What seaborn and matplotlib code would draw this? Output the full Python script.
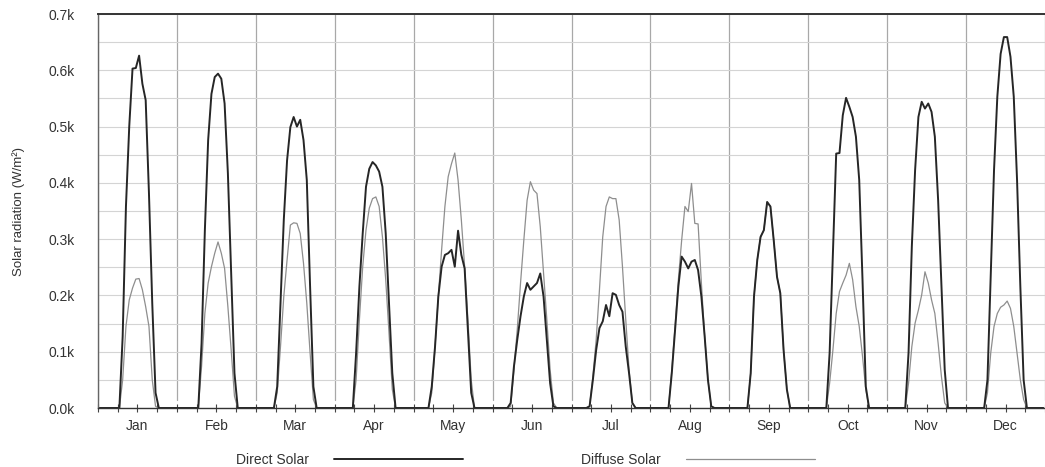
import numpy as np
import pandas as pd
import seaborn as sns
import matplotlib.pyplot as plt
from matplotlib.ticker import FuncFormatter, MultipleLocator

months = ["Jan", "Feb", "Mar", "Apr", "May", "Jun",
          "Jul", "Aug", "Sep", "Oct", "Nov", "Dec"]
hours = list(range(24))

# average day profile per month, W/m2, hour 0..23
direct_solar = [
    [0, 0, 0, 0, 0, 0, 0, 127, 358, 500, 603, 604, 626, 576, 547, 381, 186, 27, 0, 0, 0, 0, 0, 0],
    [0, 0, 0, 0, 0, 0, 0, 115, 316, 476, 558, 588, 594, 585, 541, 417, 239, 62, 0, 0, 0, 0, 0, 0],
    [0, 0, 0, 0, 0, 0, 38, 186, 334, 440, 499, 517, 500, 512, 476, 405, 216, 38, 0, 0, 0, 0, 0, 0],
    [0, 0, 0, 0, 0, 0, 98, 216, 310, 393, 425, 437, 431, 420, 393, 310, 186, 62, 0, 0, 0, 0, 0, 0],
    [0, 0, 0, 0, 0, 38, 109, 198, 251, 272, 275, 281, 251, 315, 272, 248, 139, 27, 0, 0, 0, 0, 0, 0],
    [0, 0, 0, 0, 0, 9, 74, 121, 163, 198, 222, 210, 216, 222, 239, 198, 121, 44, 3, 0, 0, 0, 0, 0],
    [0, 0, 0, 0, 0, 3, 50, 103, 142, 154, 183, 163, 204, 201, 183, 171, 109, 62, 9, 0, 0, 0, 0, 0],
    [0, 0, 0, 0, 0, 0, 62, 139, 216, 269, 260, 248, 260, 263, 245, 198, 127, 50, 3, 0, 0, 0, 0, 0],
    [0, 0, 0, 0, 0, 0, 62, 198, 263, 304, 316, 366, 358, 298, 233, 204, 103, 33, 0, 0, 0, 0, 0, 0],
    [0, 0, 0, 0, 0, 0, 98, 275, 452, 453, 520, 551, 535, 517, 482, 405, 228, 38, 0, 0, 0, 0, 0, 0],
    [0, 0, 0, 0, 0, 0, 98, 287, 423, 517, 544, 532, 541, 526, 482, 369, 216, 68, 0, 0, 0, 0, 0, 0],
    [0, 0, 0, 0, 0, 0, 50, 239, 423, 553, 629, 659, 659, 624, 553, 405, 216, 50, 0, 0, 0, 0, 0, 0],
]
diffuse_solar = [
    [0, 0, 0, 0, 0, 0, 0, 50, 145, 192, 213, 229, 230, 210, 180, 145, 50, 3, 0, 0, 0, 0, 0, 0],
    [0, 0, 0, 0, 0, 0, 0, 74, 168, 222, 251, 275, 295, 275, 248, 180, 103, 21, 0, 0, 0, 0, 0, 0],
    [0, 0, 0, 0, 0, 0, 27, 109, 198, 263, 325, 329, 328, 310, 257, 186, 98, 15, 0, 0, 0, 0, 0, 0],
    [0, 0, 0, 0, 0, 0, 50, 157, 251, 316, 355, 372, 375, 358, 304, 228, 133, 33, 0, 0, 0, 0, 0, 0],
    [0, 0, 0, 0, 0, 27, 109, 198, 281, 358, 411, 434, 453, 405, 334, 251, 157, 50, 0, 0, 0, 0, 0, 0],
    [0, 0, 0, 0, 0, 3, 68, 139, 222, 298, 369, 402, 387, 381, 322, 239, 157, 68, 9, 0, 0, 0, 0, 0],
    [0, 0, 0, 0, 0, 3, 56, 121, 210, 304, 358, 375, 372, 372, 334, 251, 157, 68, 9, 0, 0, 0, 0, 0],
    [0, 0, 0, 0, 0, 0, 68, 145, 228, 298, 358, 349, 399, 328, 327, 222, 127, 50, 3, 0, 0, 0, 0, 0],
    [0, 0, 0, 0, 0, 0, 62, 198, 263, 304, 316, 366, 358, 298, 233, 204, 103, 33, 0, 0, 0, 0, 0, 0],
    [0, 0, 0, 0, 0, 0, 44, 103, 168, 207, 222, 236, 257, 228, 180, 145, 92, 33, 0, 0, 0, 0, 0, 0],
    [0, 0, 0, 0, 0, 0, 44, 109, 151, 174, 201, 242, 222, 192, 168, 115, 56, 9, 0, 0, 0, 0, 0, 0],
    [0, 0, 0, 0, 0, 0, 27, 98, 145, 168, 179, 183, 190, 177, 145, 98, 50, 15, 0, 0, 0, 0, 0, 0],
]

rows = []
for m, month in enumerate(months):
    for h in hours:
        rows.append({"t": m * 24 + h + 0.5, "direct": direct_solar[m][h],
                     "diffuse": diffuse_solar[m][h]})
df = pd.DataFrame(rows)

sns.set_theme(style="white")
plt.rcParams["font.family"] = ["Liberation Sans", "DejaVu Sans"]
plt.rcParams["text.color"] = "#333333"

fig = plt.figure(figsize=(10.45, 4.67), dpi=100)
ax = fig.add_axes([98 / 1045, 59 / 467, 947 / 1045, 394 / 467])

sns.lineplot(data=df, x="t", y="diffuse", color="#8e8e8e", lw=0.9,
             estimator=None, label="Diffuse Solar", ax=ax)
sns.lineplot(data=df, x="t", y="direct", color="#262626", lw=1.4,
             estimator=None, label="Direct Solar", ax=ax)

ax.set_xlim(0, 288)
ax.set_ylim(0, 700)

# grid: fine horizontal lines, month separators
ax.set_yticks(range(0, 701, 100))
ax.yaxis.set_minor_locator(MultipleLocator(50))
ax.grid(axis="y", which="both", color="#d4d4d4", lw=0.8)
for edge in range(0, 289, 24):
    ax.axvline(edge, ymin=0.02, color="#a8a8a8", lw=0.9, zorder=0.5)

ax.yaxis.set_major_formatter(FuncFormatter(lambda v, p: f"{v / 1000:.1f}k"))
ax.tick_params(axis="y", which="both", length=0, pad=16.5, labelsize=10,
               labelcolor="#333333")

ticks = list(range(0, 289, 6))
ax.set_xticks(ticks)
ax.set_xticklabels([months[t // 24] if t % 24 == 12 else "" for t in ticks])
ax.tick_params(axis="x", direction="inout", length=6, width=0.8, color="#444444",
               pad=5, labelsize=10, labelcolor="#333333", bottom=True)

ax.set_xlabel("")
ax.set_ylabel("Solar radiation (W/m\u00b2)", fontsize=9.5, color="#333333", labelpad=17)

ax.spines["right"].set_visible(False)
ax.spines["top"].set_color("#333333")
ax.spines["top"].set_linewidth(1.4)
ax.spines["left"].set_color("#666666")
ax.spines["left"].set_linewidth(1.0)
ax.spines["bottom"].set_color("#333333")
ax.spines["bottom"].set_linewidth(1.0)

handles, labels = ax.get_legend_handles_labels()
order = [labels.index("Direct Solar"), labels.index("Diffuse Solar")]
ax.legend([handles[i] for i in order], [labels[i] for i in order],
          loc="center", bbox_to_anchor=(0.503, 0.015), bbox_transform=fig.transFigure,
          ncol=2, frameon=False, markerfirst=False, handlelength=9.3,
          handletextpad=1.8, columnspacing=8.5, fontsize=10)

fig.savefig("out.png", dpi=100)
